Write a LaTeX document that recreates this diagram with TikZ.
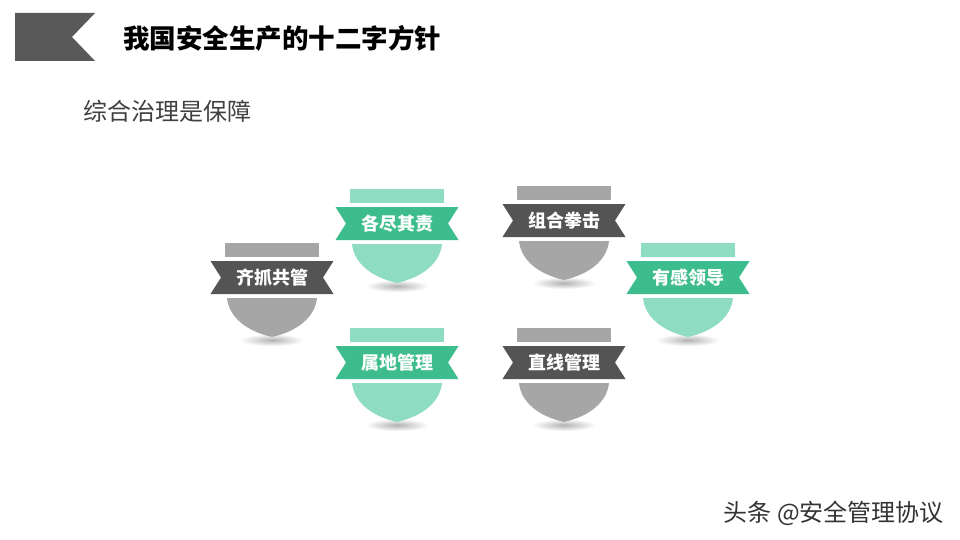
\documentclass[tikz,border=0pt]{standalone}
\usepackage{fontspec}
\newfontfamily\cjk{Noto Sans CJK SC}
\definecolor{ribdark}{HTML}{545454}
\definecolor{greylt}{HTML}{A6A6A6}
\definecolor{ribgreen}{HTML}{3DBD8D}
\definecolor{greenlt}{HTML}{8EDCC1}
\definecolor{flaggrey}{HTML}{595959}
\tikzset{
  x=1pt, y=-1pt,
  ribtext/.style={text=white, font=\cjk\bfseries\fontsize{18}{18}\selectfont, inner sep=0pt},
  titletext/.style={anchor=west, inner sep=0pt, font=\cjk\bfseries\fontsize{26.5}{26.5}\selectfont, text=black},
  subtext/.style={anchor=west, inner sep=0pt, font=\cjk\fontsize{24}{24}\selectfont, text=black!75},
  marktext/.style={anchor=east, inner sep=0pt, font=\cjk\fontsize{24}{24}\selectfont, text=black!80},
}
\newcommand{\mybadge}[6]{%
  \begin{scope}[shift={(#2,#3)}]
    \shade[inner color=black!30, outer color=white] (0,97) ellipse [x radius=32, y radius=6];
    \fill[#5] (-47,0) rectangle (47,14);
    \fill[#4] (-61.5,18) -- (61.5,18) -- (51,34.5) -- (61.5,51) -- (-61.5,51) -- (-51,34.5) -- cycle;
    \fill[#5] (-45,55) -- (45,55) .. controls (43,74) and (26,88) .. (0,94) .. controls (-26,88) and (-43,74) .. (-45,55) -- cycle;
    \node[ribtext] (#1) at (0,34.5) {#6};
  \end{scope}}
\begin{document}
\begin{tikzpicture}
\useasboundingbox[fill=white] (0,0) rectangle (960,540);
\fill[flaggrey] (15,13) -- (95,13) -- (72,37) -- (95,61) -- (15,61) -- cycle;
\node[titletext] (title) at (123,38) {我国安全生产的十二字方针};
\node[subtext] (sub) at (83,111) {综合治理是保障};
\mybadge{b1}{272}{243}{ribdark}{greylt}{齐抓共管}
\mybadge{b2}{397}{189}{ribgreen}{greenlt}{各尽其责}
\mybadge{b3}{397}{328}{ribgreen}{greenlt}{属地管理}
\mybadge{b4}{564}{186}{ribdark}{greylt}{组合拳击}
\mybadge{b5}{688}{243}{ribgreen}{greenlt}{有感领导}
\mybadge{b6}{564}{328}{ribdark}{greylt}{直线管理}
\node[marktext] (mark) at (944,513) {头条 @安全管理协议};
\end{tikzpicture}
\end{document}
